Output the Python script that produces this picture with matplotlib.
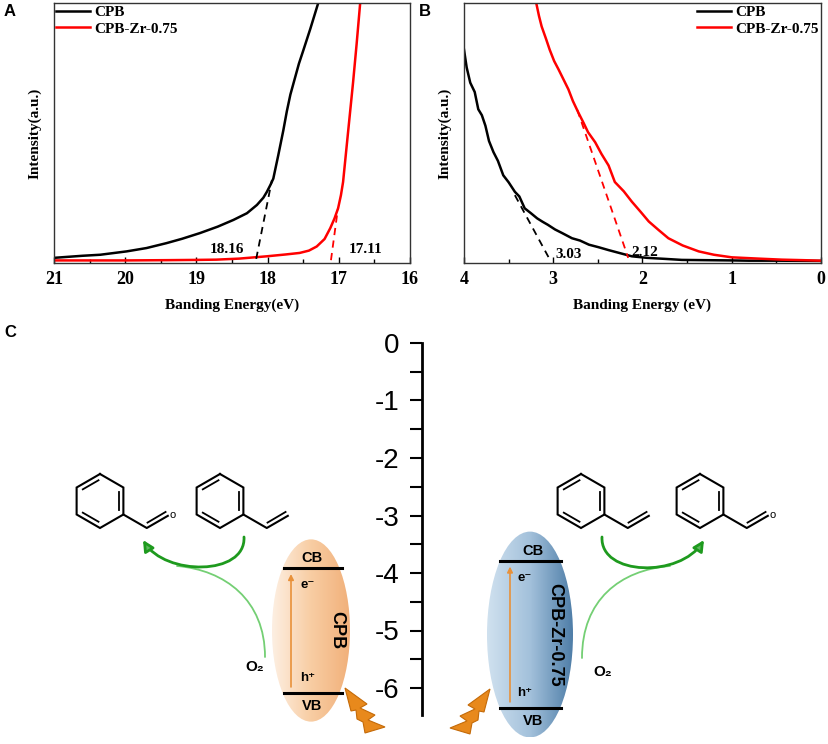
import numpy as np
import matplotlib.pyplot as plt
from matplotlib.patches import Ellipse, Polygon, FancyArrowPatch
from matplotlib.path import Path
from matplotlib.colors import LinearSegmentedColormap

W, H = 829, 744
SERIF = 'Liberation Serif'
SANS = ['Liberation Sans', 'DejaVu Sans']

# ---- panel A: secondary electron cutoff (binding energy, eV / intensity, a.u.)
a_cpb_energy = [21.0, 20.6, 20.35, 19.98, 19.7, 19.42, 19.2, 18.95, 18.7, 18.48,
                18.29, 18.15, 18.06, 18.01, 17.96, 17.92, 17.85, 17.78, 17.73,
                17.68, 17.62, 17.56, 17.5, 17.4, 17.29]
a_cpb_int = [1.2, 2.0, 2.4, 3.7, 5.0, 6.9, 8.6, 10.8, 13.3, 15.9, 18.5, 21.7,
             24.5, 26.8, 29.5, 31.9, 41.0, 50.5, 58.0, 64.5, 70.5, 76.5, 81.5,
             90.0, 99.9]
a_zr_energy = [21.0, 20.0, 19.42, 19.0, 18.72, 18.4, 18.01, 17.75, 17.55, 17.42,
               17.31, 17.2, 17.12, 17.06, 17.01, 16.97, 16.94, 16.87, 16.8,
               16.75, 16.7]
a_zr_int = [0.2, 0.2, 0.3, 0.4, 0.5, 0.9, 1.8, 2.5, 3.1, 4.0, 5.6, 8.5, 12.7,
            16.5, 20.4, 25.5, 30.6, 49.9, 69.1, 84.0, 99.9]
a_cpb_fit = ([18.16, 17.94], [0.8, 31.3])
a_zr_fit = ([17.11, 17.01], [0.3, 20.8])
a_notes = [('18.16', 18.57, 4.4), ('17.11', 16.63, 4.4)]

# ---- panel B: valence band edge
b_cpb_energy = [4.0, 3.97, 3.93, 3.88, 3.84, 3.8, 3.76, 3.72, 3.67, 3.62, 3.56,
                3.5, 3.43, 3.38, 3.32, 3.25, 3.18, 3.12, 3.06, 2.98, 2.9, 2.79,
                2.7, 2.6, 2.49, 2.38, 2.25, 2.12, 1.95, 1.75, 1.56, 1.3, 1.0,
                0.81, 0.5, 0.0]
b_cpb_int = [81.9, 75.0, 69.1, 65.5, 58.8, 56.5, 52.4, 46.5, 42.2, 38.8, 33.2,
             30.5, 26.8, 25.0, 20.4, 18.5, 16.5, 15.2, 14.0, 12.2, 10.8, 8.8,
             7.9, 6.3, 5.3, 4.2, 3.0, 1.8, 1.2, 0.8, 0.4, 0.3, 0.2, 0.1, 0.1, 0.0]
b_zr_energy = [3.19, 3.16, 3.13, 3.08, 3.04, 2.99, 2.94, 2.88, 2.83, 2.78, 2.72,
               2.66, 2.61, 2.53, 2.46, 2.38, 2.31, 2.21, 2.12, 2.02, 1.93, 1.82,
               1.71, 1.55, 1.37, 1.2, 1.0, 0.7, 0.44, 0.2, 0.0]
b_zr_int = [99.9, 95.0, 90.9, 86.0, 81.9, 77.5, 74.2, 70.0, 66.5, 62.0, 57.6,
            53.5, 49.9, 46.0, 41.5, 37.0, 30.6, 27.0, 23.0, 19.0, 15.3, 12.0,
            8.8, 6.0, 3.7, 2.4, 1.4, 0.9, 0.5, 0.3, 0.1]
b_cpb_fit = ([3.43, 3.03], [25.5, 0.0])
b_zr_fit = ([2.73, 2.16], [58.5, 1.2])
b_notes = [('3.03', 2.83, 2.6), ('2.12', 1.98, 3.4)]

# ---- panel C: band positions (eV)
samples = ['CPB', 'CPB-Zr-0.75']
cb_levels = [-3.92, -3.79]
vb_levels = [-6.08, -6.34]
energy_ticks = [0, -1, -2, -3, -4, -5, -6]
energy_minor = [-0.5, -1.5, -2.5, -3.5, -4.5, -5.5]


def px_rect(x0, y0, x1, y1):
    return [x0 / W, 1 - y1 / H, (x1 - x0) / W, (y1 - y0) / H]


def style_ups(ax, xlim, major, minor):
    ax.set_xlim(xlim)
    ax.set_ylim(-0.8, 100)
    ax.set_xticks(major)
    ax.set_xticks(minor, minor=True)
    ax.set_xticklabels([str(v) for v in major], fontfamily=SERIF,
                       fontweight='bold', fontsize=13)
    ax.set_yticks([])
    ax.tick_params(axis='x', which='both', direction='in', width=1)
    ax.tick_params(axis='x', which='major', length=4, pad=6)
    ax.tick_params(axis='x', which='minor', length=3)
    for sp in ax.spines.values():
        sp.set_linewidth(1.0)
        sp.set_color('#333333')
    ax.set_ylabel('Intensity(a.u.)', fontfamily=SERIF, fontweight='bold',
                  fontsize=11, labelpad=9)


def add_legend(ax, loc):
    ax.legend(loc=loc, frameon=False, handlelength=2.2, handletextpad=0.3,
              labelspacing=0.2, borderaxespad=0.05, borderpad=0.1,
              prop=dict(family=SERIF, weight='bold', size=11))


fig = plt.figure(figsize=(W / 100, H / 100), dpi=100)

# panel A
axA = fig.add_axes(px_rect(54, 3, 410, 263))
axA.plot(a_cpb_energy, a_cpb_int, color='black', lw=1.8, label='CPB')
axA.plot(a_zr_energy, a_zr_int, color='#ff0000', lw=1.8, label='CPB-Zr-0.75')
axA.plot(*a_cpb_fit, color='black', lw=1.3, ls=(0, (4, 3)))
axA.plot(*a_zr_fit, color='#ff0000', lw=1.3, ls=(0, (4, 3)))
for txt, x, y in a_notes:
    axA.text(x, y, txt, ha='center', va='center', fontfamily=SERIF,
             fontweight='bold', fontsize=11)
style_ups(axA, (21, 16), [21, 20, 19, 18, 17, 16],
          [20.5, 19.5, 18.5, 17.5, 16.5])
axA.set_xlabel('Banding Energy(eV)', fontfamily=SERIF, fontweight='bold',
               fontsize=11, labelpad=7)
add_legend(axA, 'upper left')

# panel B
axB = fig.add_axes(px_rect(464, 3, 821, 263))
axB.plot(b_cpb_energy, b_cpb_int, color='black', lw=1.8, label='CPB')
axB.plot(b_zr_energy, b_zr_int, color='#ff0000', lw=1.8, label='CPB-Zr-0.75')
axB.plot(*b_cpb_fit, color='black', lw=1.3, ls=(0, (4, 3)))
axB.plot(*b_zr_fit, color='#ff0000', lw=1.3, ls=(0, (4, 3)))
for txt, x, y in b_notes:
    axB.text(x, y, txt, ha='center', va='center', fontfamily=SERIF,
             fontweight='bold', fontsize=11)
style_ups(axB, (4, 0), [4, 3, 2, 1, 0], [3.5, 2.5, 1.5, 0.5])
axB.set_xlabel('Banding Energy (eV)', fontfamily=SERIF, fontweight='bold',
               fontsize=11, labelpad=7)
add_legend(axB, 'upper right')

# panel labels
for lab, x, y in [('A', 10, 12), ('B', 425, 12), ('C', 10, 332)]:
    fig.text(x / W, 1 - y / H, lab, ha='center', va='center',
             fontfamily=SANS, fontweight='bold', fontsize=12)

# panel C: energy axis in x=pixel, y=eV
PX_PER_EV = 57.5
Y0_PX = 343
C_TOP, C_BOT = 320, 744
axC = fig.add_axes(px_rect(0, C_TOP, W, C_BOT))
axC.patch.set_visible(False)
axC.xaxis.set_visible(False)
for side in ['top', 'right', 'bottom']:
    axC.spines[side].set_visible(False)
axC.spines['left'].set_position(('data', 422))
axC.spines['left'].set_bounds(-6.47, 0)
axC.spines['left'].set_linewidth(2)
axC.set_yticks(energy_ticks)
axC.set_yticklabels([str(v) for v in energy_ticks], fontfamily=SANS,
                    fontsize=20)
axC.set_yticks(energy_minor, minor=True)
axC.tick_params(axis='y', which='both', direction='out', length=9, width=1.5)
axC.tick_params(axis='y', which='major', pad=7)

ell_x = [311, 530]
ell_w = [78, 86]
ell_mid = [-5.0, -5.07]
ell_h = [3.17, 3.58]
ell_colors = [['#fdefe2', '#f8cda3', '#f1b07a'],
              ['#d0e1ef', '#a3c1db', '#4f7ea8']]
line_x = [(284, 342), (500, 561)]
name_x = [337, 555]
name_y = [-5.0, -5.08]
label_x = [312, 533]
eh_x = [308, 525]
arrow_x = [291, 510]

for i in range(2):
    cx, w, cy, h = ell_x[i], ell_w[i], ell_mid[i], ell_h[i]
    ell = Ellipse((cx, cy), w, h, facecolor='none', edgecolor='none')
    axC.add_patch(ell)
    cmap = LinearSegmentedColormap.from_list('g%d' % i, ell_colors[i])
    grad = np.linspace(0, 1, 200).reshape(1, -1)
    im = axC.imshow(grad, cmap=cmap, aspect='auto', interpolation='bilinear',
                    extent=[cx - w / 2, cx + w / 2, cy - h / 2, cy + h / 2],
                    zorder=1)
    im.set_clip_path(ell)
    x0, x1 = line_x[i]
    axC.plot([x0, x1], [cb_levels[i]] * 2, color='black', lw=2.2, zorder=3)
    axC.plot([x0, x1], [vb_levels[i]] * 2, color='black', lw=2.2, zorder=3)
    axC.text(label_x[i], cb_levels[i] + 0.18, 'CB', ha='center', va='center',
             fontfamily=SANS, fontweight='bold', fontsize=10.5, zorder=4)
    axC.text(label_x[i], vb_levels[i] - 0.24, 'VB', ha='center', va='center',
             fontfamily=SANS, fontweight='bold', fontsize=10.5, zorder=4)
    axC.text(eh_x[i], cb_levels[i] - 0.29, 'e\u207b', ha='center',
             va='center', fontfamily=SANS, fontweight='bold', fontsize=9.5,
             zorder=4)
    axC.text(eh_x[i], vb_levels[i] + 0.26, 'h\u207a', ha='center',
             va='center', fontfamily=SANS, fontweight='bold', fontsize=9.5,
             zorder=4)
    axC.annotate('', xy=(arrow_x[i], cb_levels[i] - 0.05),
                 xytext=(arrow_x[i], vb_levels[i] + 0.05),
                 arrowprops=dict(arrowstyle='-|>', color='#e8913a', lw=1.2,
                                 mutation_scale=8), zorder=4)
    axC.text(name_x[i], name_y[i], samples[i], rotation=270, ha='center',
             va='center', fontfamily=SANS, fontweight='bold', fontsize=13,
             zorder=4)
axC.set_xlim(0, W)
axC.set_ylim(-(C_BOT - Y0_PX) / PX_PER_EV, (Y0_PX - C_TOP) / PX_PER_EV)

# overlay in pixel coordinates for the reaction scheme
axD = fig.add_axes(px_rect(0, C_TOP, W, C_BOT))
axD.set_xlim(0, W)
axD.set_ylim(C_BOT, C_TOP)
axD.axis('off')


def draw_ring(ax, cx, cy, r=27):
    ang = np.deg2rad([90, 30, -30, -90, -150, 150])
    vx = cx + r * np.cos(ang)
    vy = cy - r * np.sin(ang)
    ax.plot(np.append(vx, vx[0]), np.append(vy, vy[0]), color='black', lw=1.5,
            solid_joinstyle='miter')
    for a, b in [(1, 2), (3, 4), (5, 0)]:
        p = np.array([vx[a], vy[a]])
        q = np.array([vx[b], vy[b]])
        c = np.array([cx, cy])
        p2 = p + (c - p) * 0.2
        q2 = q + (c - q) * 0.2
        d = q2 - p2
        p3 = p2 + d * 0.08
        q3 = q2 - d * 0.08
        ax.plot([p3[0], q3[0]], [p3[1], q3[1]], color='black', lw=1.3)
    return vx[2], vy[2]


def draw_chain(ax, start, aldehyde):
    L = 27
    x0, y0 = start
    x1 = x0 + L * np.cos(np.deg2rad(30))
    y1 = y0 + L * np.sin(np.deg2rad(30))
    x2 = x1 + L * 0.9 * np.cos(np.deg2rad(30))
    y2 = y1 - L * 0.9 * np.sin(np.deg2rad(30))
    ax.plot([x0, x1, x2], [y0, y1, y2], color='black', lw=1.5)
    off = 4.5
    nx, ny = -np.sin(np.deg2rad(30)) * off, -np.cos(np.deg2rad(30)) * off
    ax.plot([x1 + nx + 3, x2 + nx], [y1 + ny - 1.5, y2 + ny], color='black',
            lw=1.3)
    if aldehyde:
        ax.text(x2 + 4.5, y2 - 1, 'o', ha='center', va='center', fontsize=8,
                fontfamily=SANS)


ring_centers = [(100, 501, True), (220, 501, False),
                (581, 501, False), (700, 501, True)]
for cx, cy, ald in ring_centers:
    draw_chain(axD, draw_ring(axD, cx, cy), ald)

dark_green = '#1e9a1e'
light_green = '#74cf74'
thin_paths = [[(265, 657), (265, 600), (225, 570), (177, 566)],
              [(582, 658), (582, 600), (620, 570), (670, 566)]]
thick_paths = [[(244, 537), (246, 576), (165, 576), (143, 540)],
               [(602, 537), (600, 576), (680, 578), (704, 540)]]
codes = [Path.MOVETO, Path.CURVE4, Path.CURVE4, Path.CURVE4]
for pts in thin_paths:
    axD.add_patch(FancyArrowPatch(path=Path(pts, codes), arrowstyle='-',
                                  color=light_green, lw=1.3))
for pts in thick_paths:
    axD.add_patch(FancyArrowPatch(path=Path(pts, codes), arrowstyle='-|>',
                                  mutation_scale=16, lw=2,
                                  edgecolor=dark_green, facecolor='#5fb85f'))

for x, y in [(255, 667), (603, 672)]:
    axD.text(x, y, 'O\u2082', ha='center', va='center', fontfamily=SANS,
             fontweight='bold', fontsize=11)

# lightning bolt outline (pixel), mirrored for the second ellipse
bolt = [(345, 688), (367, 704), (360, 708), (375, 715), (368, 720),
        (385, 727), (365, 733), (363, 722), (357, 719), (356, 710),
        (351, 711)]
for pts in [bolt, [(835 - x, y + 1) for x, y in bolt]]:
    axD.add_patch(Polygon(pts, closed=True, facecolor='#e8891c',
                          edgecolor='#c46a08', lw=0.8, zorder=5,
                          joinstyle='miter'))

fig.savefig('out.png', dpi=100)
